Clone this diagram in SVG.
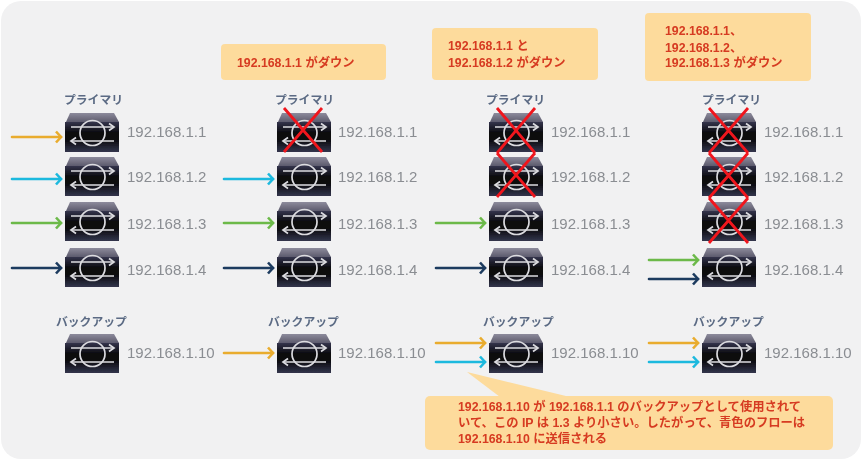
<svg xmlns="http://www.w3.org/2000/svg" width="864" height="463" viewBox="0 0 864 463">
<style>
.ip{font:15px "Liberation Sans","Noto Sans CJK JP",sans-serif;fill:#8a8d92}
.h{font:bold 11.8px "Noto Sans CJK JP","Noto Sans",sans-serif;fill:#5b6b84}
.n{font:bold 12.3px "Liberation Sans","Noto Sans CJK JP",sans-serif;fill:#d63a20}
.c{fill:#fddb9c}
.a{fill:none;stroke-width:2.6;stroke-linecap:round}
.o{stroke:#e9ac2e}.b{stroke:#1fb9de}.g{stroke:#6cb94a}.d{stroke:#1b3a5e}
.x{stroke:#f0141e;stroke-width:2.8;fill:none}
.w{fill:none;stroke:#dcdce0;stroke-width:1.7}
</style>
<defs>
<filter id="soft" x="0" y="0" width="100%" height="100%"><feGaussianBlur stdDeviation="0.45"/></filter>
<linearGradient id="t" x1="0" y1="0" x2="0" y2="1"><stop offset="0" stop-color="#8d8b9c"/><stop offset="1" stop-color="#5c5a6c"/></linearGradient>
<linearGradient id="f" x1="0" y1="0" x2="0" y2="1"><stop offset="0" stop-color="#34344c"/><stop offset=".35" stop-color="#0c0c10"/><stop offset=".6" stop-color="#0c0c10"/><stop offset="1" stop-color="#33354c"/></linearGradient>
<g id="sw">
<path d="M1 10L5 1H49L54 10Z" fill="url(#t)"/>
<rect x="0" y="10" width="54" height="30" fill="url(#f)"/>
<circle cx="27.5" cy="21" r="12.5" class="w"/>
<path class="w" d="M6 15H48M7 29H49"/>
<path class="w" d="M44 11.5L49 15L44 18.5M11 25.5L6 29L11 32.5"/>
</g>
<marker id="mo" markerWidth="10" markerHeight="14" refX="7" refY="7" orient="auto" markerUnits="userSpaceOnUse"><path d="M2 1.5L7 7L2 12.5" fill="none" stroke="#e9ac2e" stroke-width="2.6"/></marker>
<marker id="mb" markerWidth="10" markerHeight="14" refX="7" refY="7" orient="auto" markerUnits="userSpaceOnUse"><path d="M2 1.5L7 7L2 12.5" fill="none" stroke="#1fb9de" stroke-width="2.6"/></marker>
<marker id="mg" markerWidth="10" markerHeight="14" refX="7" refY="7" orient="auto" markerUnits="userSpaceOnUse"><path d="M2 1.5L7 7L2 12.5" fill="none" stroke="#6cb94a" stroke-width="2.6"/></marker>
<marker id="md" markerWidth="10" markerHeight="14" refX="7" refY="7" orient="auto" markerUnits="userSpaceOnUse"><path d="M2 1.5L7 7L2 12.5" fill="none" stroke="#1b3a5e" stroke-width="2.6"/></marker>
</defs>
<rect width="864" height="463" fill="#fff"/>
<g filter="url(#soft)">
<rect x="1" y="1" width="860" height="458" rx="20" fill="#f1f1f2"/>

<g id="callouts">
<rect class="c" x="221" y="44" width="165" height="36" rx="4"/>
<text class="n" x="237" y="67">192.168.1.1 がダウン</text>
<rect class="c" x="432" y="28" width="166" height="52" rx="4"/>
<text class="n" x="448" y="50">192.168.1.1 と</text>
<text class="n" x="448" y="67">192.168.1.2 がダウン</text>
<rect class="c" x="645" y="13" width="166" height="68" rx="4"/>
<text class="n" x="665" y="35">192.168.1.1、</text>
<text class="n" x="665" y="52">192.168.1.2、</text>
<text class="n" x="665" y="67">192.168.1.3 がダウン</text>
<path class="c" d="M467 372L570 397H500Z"/>
<rect class="c" x="425" y="396" width="408" height="54" rx="5"/>
<text class="n" x="458" y="411">192.168.1.10 が 192.168.1.1 のバックアップとして使用されて</text>
<text class="n" x="458" y="427">いて、この IP は 1.3 より小さい。したがって、青色のフローは</text>
<text class="n" x="458" y="443">192.168.1.10 に送信される</text>
</g>

<g id="col1">
<text class="h" x="64" y="104">プライマリ</text>
<text class="h" x="56" y="326">バックアップ</text>
<g id="n1-1"><use href="#sw" x="65" y="112"/><text class="ip" x="127" y="137">192.168.1.1</text></g>
<g id="n1-2"><use href="#sw" x="65" y="156"/><text class="ip" x="127" y="182">192.168.1.2</text></g>
<g id="n1-3"><use href="#sw" x="65" y="201"/><text class="ip" x="127" y="229">192.168.1.3</text></g>
<g id="n1-4"><use href="#sw" x="65" y="247"/><text class="ip" x="127" y="275">192.168.1.4</text></g>
<g id="n1-b"><use href="#sw" x="65" y="333"/><text class="ip" x="127" y="358">192.168.1.10</text></g>
</g>
<g id="col2">
<text class="h" x="275" y="104">プライマリ</text>
<text class="h" x="268" y="326">バックアップ</text>
<g id="n2-1"><use href="#sw" x="277" y="112"/><text class="ip" x="338" y="137">192.168.1.1</text></g>
<g id="n2-2"><use href="#sw" x="277" y="156"/><text class="ip" x="338" y="182">192.168.1.2</text></g>
<g id="n2-3"><use href="#sw" x="277" y="201"/><text class="ip" x="338" y="229">192.168.1.3</text></g>
<g id="n2-4"><use href="#sw" x="277" y="247"/><text class="ip" x="338" y="275">192.168.1.4</text></g>
<g id="n2-b"><use href="#sw" x="277" y="333"/><text class="ip" x="338" y="358">192.168.1.10</text></g>
</g>
<g id="col3">
<text class="h" x="486" y="104">プライマリ</text>
<text class="h" x="483" y="326">バックアップ</text>
<g id="n3-1"><use href="#sw" x="489" y="112"/><text class="ip" x="551" y="137">192.168.1.1</text></g>
<g id="n3-2"><use href="#sw" x="489" y="156"/><text class="ip" x="551" y="182">192.168.1.2</text></g>
<g id="n3-3"><use href="#sw" x="489" y="201"/><text class="ip" x="551" y="229">192.168.1.3</text></g>
<g id="n3-4"><use href="#sw" x="489" y="247"/><text class="ip" x="551" y="275">192.168.1.4</text></g>
<g id="n3-b"><use href="#sw" x="489" y="333"/><text class="ip" x="551" y="358">192.168.1.10</text></g>
</g>
<g id="col4">
<text class="h" x="702" y="104">プライマリ</text>
<text class="h" x="693" y="326">バックアップ</text>
<g id="n4-1"><use href="#sw" x="702" y="112"/><text class="ip" x="764" y="137">192.168.1.1</text></g>
<g id="n4-2"><use href="#sw" x="702" y="156"/><text class="ip" x="764" y="182">192.168.1.2</text></g>
<g id="n4-3"><use href="#sw" x="702" y="201"/><text class="ip" x="764" y="229">192.168.1.3</text></g>
<g id="n4-4"><use href="#sw" x="702" y="247"/><text class="ip" x="764" y="275">192.168.1.4</text></g>
<g id="n4-b"><use href="#sw" x="702" y="333"/><text class="ip" x="764" y="358">192.168.1.10</text></g>
</g>

<g id="crosses">
<path class="x" d="M284 108L322 152M322 108L284 152"/>
<path class="x" d="M497 108L535 153M535 108L497 153M497 153L535 197M535 153L497 197"/>
<path class="x" d="M709 108L748 153M748 108L709 153M709 153L748 198M748 153L709 198M709 198L748 243M748 198L709 243"/>
</g>

<g id="connectors">
<path class="a o" marker-end="url(#mo)" d="M12 137H61"/>
<path class="a b" marker-end="url(#mb)" d="M12 179H61"/>
<path class="a g" marker-end="url(#mg)" d="M12 223H61"/>
<path class="a d" marker-end="url(#md)" d="M12 268H61"/>
<path class="a o" marker-end="url(#mo)" d="M224 353H273"/>
<path class="a b" marker-end="url(#mb)" d="M224 179H273"/>
<path class="a g" marker-end="url(#mg)" d="M224 223H273"/>
<path class="a d" marker-end="url(#md)" d="M224 268H273"/>
<path class="a g" marker-end="url(#mg)" d="M436 223H485"/>
<path class="a d" marker-end="url(#md)" d="M436 268H485"/>
<path class="a o" marker-end="url(#mo)" d="M436 343H485"/>
<path class="a b" marker-end="url(#mb)" d="M436 362H485"/>
<path class="a g" marker-end="url(#mg)" d="M649 260H698"/>
<path class="a d" marker-end="url(#md)" d="M649 279H698"/>
<path class="a o" marker-end="url(#mo)" d="M649 343H698"/>
<path class="a b" marker-end="url(#mb)" d="M649 362H698"/>
</g>
</g>
</svg>
